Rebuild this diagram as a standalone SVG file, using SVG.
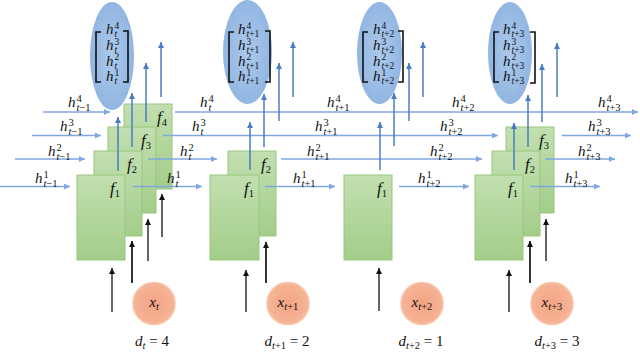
<svg xmlns="http://www.w3.org/2000/svg" width="640" height="352" viewBox="0 0 640 352">
<defs>
<linearGradient id="gbox" x1="0" y1="0" x2="0" y2="1">
<stop offset="0" stop-color="#c2dfb0"/>
<stop offset="1" stop-color="#a3cd89"/>
</linearGradient>
<radialGradient id="gell" cx="0.5" cy="0.5" r="0.5">
<stop offset="0" stop-color="#abc9ec"/>
<stop offset="1" stop-color="#92b6e2"/>
</radialGradient>
<radialGradient id="gcir" cx="0.5" cy="0.5" r="0.5">
<stop offset="0" stop-color="#f3a484"/>
<stop offset="1" stop-color="#f6b497"/>
</radialGradient>
<marker id="ahH" viewBox="0 0 10 10" refX="10" refY="5" markerWidth="6" markerHeight="6" orient="auto" markerUnits="userSpaceOnUse"><path d="M0,0 L10,5 L0,10 z" fill="#7fa8df"/></marker>
<marker id="ahV" viewBox="0 0 10 10" refX="10" refY="5" markerWidth="6" markerHeight="6" orient="auto" markerUnits="userSpaceOnUse"><path d="M0,0 L10,5 L0,10 z" fill="#4a7cc4"/></marker>
<marker id="ahK" viewBox="0 0 10 10" refX="10" refY="5" markerWidth="7" markerHeight="6" orient="auto" markerUnits="userSpaceOnUse"><path d="M0,0 L10,5 L0,10 z" fill="#111"/></marker>
</defs>
<style>
.box{fill:url(#gbox);stroke:#98c77f;stroke-width:1}
.ell{fill:url(#gell)}
.cir{fill:url(#gcir);stroke:#f8c4aa;stroke-width:1.5}
.br{fill:none;stroke:#111;stroke-width:1.6}
.h{stroke:#7fa8df;stroke-width:1.5;fill:none;marker-end:url(#ahH)}
.v{stroke:#4a7cc4;stroke-width:1.5;fill:none;marker-end:url(#ahV)}
.k{stroke:#111;stroke-width:1.3;fill:none;marker-end:url(#ahK)}
.kb{stroke:#333;stroke-width:2;fill:none;marker-end:url(#ahK)}
.m{font-family:"Liberation Serif","DejaVu Serif",serif;font-size:15px;font-style:italic;fill:#111}
.mv{font-size:15px}
.fl{font-size:17px}
.s{font-size:10.5px;font-style:normal}
.sv{font-size:9.5px;font-style:normal}
.si{font-style:italic}
.up{font-style:normal}
</style>

<!-- state ellipses -->
<g id="state-t">
<ellipse class="ell" cx="112" cy="56" rx="22" ry="54"/>
<path class="br" d="M101,32 H96 V82 H101 M123,31 H128 V82 H123"/>
<text class="m mv" x="106" y="34">h<tspan class="sv" x="114.5" y="28.5">4</tspan><tspan class="sv si" x="114.5" y="37">t</tspan></text>
<text class="m mv" x="106" y="50">h<tspan class="sv" x="114.5" y="44.5">3</tspan><tspan class="sv si" x="114.5" y="53">t</tspan></text>
<text class="m mv" x="106" y="65.5">h<tspan class="sv" x="114.5" y="60">2</tspan><tspan class="sv si" x="114.5" y="68.5">t</tspan></text>
<text class="m mv" x="106" y="81">h<tspan class="sv" x="114.5" y="75.5">1</tspan><tspan class="sv si" x="114.5" y="84">t</tspan></text>
</g>
<g id="state-t1">
<ellipse class="ell" cx="247.5" cy="52" rx="24.5" ry="52"/>
<path class="br" d="M234,32 H229 V82 H234 M265,31 H270 V82 H265"/>
<text class="m mv" x="238" y="34">h<tspan class="sv" x="246.5" y="28.5">4</tspan><tspan class="sv" x="246.5" y="37"><tspan class="si">t</tspan>+1</tspan></text>
<text class="m mv" x="238" y="50">h<tspan class="sv" x="246.5" y="44.5">3</tspan><tspan class="sv" x="246.5" y="53"><tspan class="si">t</tspan>+1</tspan></text>
<text class="m mv" x="238" y="65.5">h<tspan class="sv" x="246.5" y="60">2</tspan><tspan class="sv" x="246.5" y="68.5"><tspan class="si">t</tspan>+1</tspan></text>
<text class="m mv" x="238" y="81">h<tspan class="sv" x="246.5" y="75.5">1</tspan><tspan class="sv" x="246.5" y="84"><tspan class="si">t</tspan>+1</tspan></text>
</g>
<g id="state-t2">
<ellipse class="ell" cx="379.5" cy="53" rx="22.5" ry="51"/>
<path class="br" d="M368,32 H363 V82 H368 M398,31 H403 V82 H398"/>
<text class="m mv" x="373" y="34">h<tspan class="sv" x="381.5" y="28.5">4</tspan><tspan class="sv" x="381.5" y="37"><tspan class="si">t</tspan>+2</tspan></text>
<text class="m mv" x="373" y="50">h<tspan class="sv" x="381.5" y="44.5">3</tspan><tspan class="sv" x="381.5" y="53"><tspan class="si">t</tspan>+2</tspan></text>
<text class="m mv" x="373" y="65.5">h<tspan class="sv" x="381.5" y="60">2</tspan><tspan class="sv" x="381.5" y="68.5"><tspan class="si">t</tspan>+2</tspan></text>
<text class="m mv" x="373" y="81">h<tspan class="sv" x="381.5" y="75.5">1</tspan><tspan class="sv" x="381.5" y="84"><tspan class="si">t</tspan>+2</tspan></text>
</g>
<g id="state-t3">
<ellipse class="ell" cx="510" cy="53" rx="22" ry="51"/>
<path class="br" d="M499,32 H494 V82 H499 M530,32 H535 V83 H530"/>
<text class="m mv" x="503" y="34">h<tspan class="sv" x="511.5" y="28.5">4</tspan><tspan class="sv" x="511.5" y="37"><tspan class="si">t</tspan>+3</tspan></text>
<text class="m mv" x="503" y="50">h<tspan class="sv" x="511.5" y="44.5">3</tspan><tspan class="sv" x="511.5" y="53"><tspan class="si">t</tspan>+3</tspan></text>
<text class="m mv" x="503" y="65.5">h<tspan class="sv" x="511.5" y="60">2</tspan><tspan class="sv" x="511.5" y="68.5"><tspan class="si">t</tspan>+3</tspan></text>
<text class="m mv" x="503" y="81">h<tspan class="sv" x="511.5" y="75.5">1</tspan><tspan class="sv" x="511.5" y="84"><tspan class="si">t</tspan>+3</tspan></text>
</g>

<!-- cell boxes, back to front -->
<g id="f4-t"><rect class="box" x="124" y="104" width="48" height="85"/><text class="m fl" x="172" y="123" text-anchor="end" dx="-5">f<tspan class="s" dy="3">4</tspan></text></g>
<g id="f3-t"><rect class="box" x="108" y="127" width="48" height="86"/><text class="m fl" x="156" y="146" text-anchor="end" dx="-5">f<tspan class="s" dy="3">3</tspan></text></g>
<g id="f2-t"><rect class="box" x="94" y="151" width="48" height="85"/><text class="m fl" x="142" y="170" text-anchor="end" dx="-5">f<tspan class="s" dy="3">2</tspan></text></g>
<g id="f1-t"><rect class="box" x="77" y="175" width="48" height="85"/><text class="m fl" x="125" y="194" text-anchor="end" dx="-5">f<tspan class="s" dy="3">1</tspan></text></g>

<g id="f2-t1"><rect class="box" x="228" y="151" width="48" height="85"/><text class="m fl" x="276" y="170" text-anchor="end" dx="-5">f<tspan class="s" dy="3">2</tspan></text></g>
<g id="f1-t1"><rect class="box" x="210" y="175" width="49" height="85"/><text class="m fl" x="259" y="194" text-anchor="end" dx="-5">f<tspan class="s" dy="3">1</tspan></text></g>

<g id="f1-t2"><rect class="box" x="344" y="175" width="48" height="85"/><text class="m fl" x="392" y="194" text-anchor="end" dx="-5">f<tspan class="s" dy="3">1</tspan></text></g>

<g id="f3-t3"><rect class="box" x="506" y="127" width="48" height="86"/><text class="m fl" x="554" y="146" text-anchor="end" dx="-5">f<tspan class="s" dy="3">3</tspan></text></g>
<g id="f2-t3"><rect class="box" x="492" y="151" width="48" height="85"/><text class="m fl" x="540" y="170" text-anchor="end" dx="-5">f<tspan class="s" dy="3">2</tspan></text></g>
<g id="f1-t3"><rect class="box" x="475" y="175" width="48" height="85"/><text class="m fl" x="523" y="194" text-anchor="end" dx="-5">f<tspan class="s" dy="3">1</tspan></text></g>

<!-- inputs -->
<g id="x-t"><circle class="cir" cx="154" cy="303.5" r="21"/><text class="m" x="154" y="307" text-anchor="middle" font-size="16">x<tspan class="s si" dy="3">t</tspan></text><text class="m" x="152" y="346" text-anchor="middle" font-size="16">d<tspan class="s si" dy="3">t</tspan><tspan class="up" dy="-3"> = 4</tspan></text></g>
<g id="x-t1"><circle class="cir" cx="288" cy="303.5" r="21"/><text class="m" x="288" y="307" text-anchor="middle" font-size="16">x<tspan class="s" dy="3"><tspan class="si">t</tspan>+1</tspan></text><text class="m" x="287" y="346" text-anchor="middle" font-size="16">d<tspan class="s" dy="3"><tspan class="si">t</tspan>+1</tspan><tspan class="up" dy="-3"> = 2</tspan></text></g>
<g id="x-t2"><circle class="cir" cx="422" cy="303.5" r="21"/><text class="m" x="422" y="307" text-anchor="middle" font-size="16">x<tspan class="s" dy="3"><tspan class="si">t</tspan>+2</tspan></text><text class="m" x="421" y="346" text-anchor="middle" font-size="16">d<tspan class="s" dy="3"><tspan class="si">t</tspan>+2</tspan><tspan class="up" dy="-3"> = 1</tspan></text></g>
<g id="x-t3"><circle class="cir" cx="552" cy="303.5" r="21"/><text class="m" x="552" y="307" text-anchor="middle" font-size="16">x<tspan class="s" dy="3"><tspan class="si">t</tspan>+3</tspan></text><text class="m" x="557" y="346" text-anchor="middle" font-size="16">d<tspan class="s" dy="3"><tspan class="si">t</tspan>+3</tspan><tspan class="up" dy="-3"> = 3</tspan></text></g>

<!-- connectors -->
<g id="connectors">
<line class="h" x1="43" y1="112" x2="110" y2="112"/>
<line class="h" x1="175" y1="112" x2="638" y2="112"/>
<line class="h" x1="32" y1="135.5" x2="101" y2="135.5"/>
<line class="h" x1="163" y1="135.5" x2="498" y2="135.5"/>
<line class="h" x1="562" y1="135.5" x2="631" y2="135.5"/>
<line class="h" x1="15" y1="159" x2="85" y2="159"/>
<line class="h" x1="148" y1="159" x2="217" y2="159"/>
<line class="h" x1="281" y1="159" x2="482" y2="159"/>
<line class="h" x1="545" y1="159" x2="615" y2="159"/>
<line class="h" x1="0" y1="186.5" x2="70" y2="186.5"/>
<line class="h" x1="133" y1="186.5" x2="202" y2="186.5"/>
<line class="h" x1="265" y1="186.5" x2="335" y2="186.5"/>
<line class="h" x1="399" y1="186.5" x2="469" y2="186.5"/>
<line class="h" x1="530" y1="186.5" x2="600" y2="186.5"/>
<line class="v" x1="118" y1="171" x2="118" y2="117"/>
<line class="v" x1="132" y1="147" x2="132" y2="93"/>
<line class="v" x1="146" y1="122" x2="146" y2="63"/>
<line class="v" x1="161" y1="97" x2="161" y2="42"/>
<line class="v" x1="250" y1="170" x2="250" y2="122"/>
<line class="v" x1="264" y1="147" x2="264" y2="94"/>
<line class="v" x1="279" y1="121" x2="279" y2="63"/>
<line class="v" x1="293" y1="97" x2="293" y2="42"/>
<line class="v" x1="380" y1="170" x2="380" y2="122"/>
<line class="v" x1="394" y1="146" x2="394" y2="93"/>
<line class="v" x1="409" y1="121" x2="409" y2="63"/>
<line class="v" x1="423" y1="97" x2="423" y2="42"/>
<line class="v" x1="514" y1="170" x2="514" y2="123"/>
<line class="v" x1="528" y1="147" x2="528" y2="95"/>
<line class="v" x1="542" y1="122" x2="542" y2="64"/>
<line class="v" x1="557" y1="97" x2="557" y2="43"/>
<line class="k" x1="112" y1="312" x2="112" y2="268"/>
<line class="kb" x1="132" y1="283" x2="132" y2="241"/>
<line class="k" x1="148" y1="261" x2="148" y2="219"/>
<line class="k" x1="162" y1="237" x2="162" y2="194"/>
<line class="k" x1="246" y1="312" x2="246" y2="270"/>
<line class="kb" x1="266" y1="283" x2="266" y2="242"/>
<line class="k" x1="379" y1="311" x2="379" y2="268"/>
<line class="k" x1="509" y1="312" x2="509" y2="270"/>
<line class="kb" x1="530" y1="283" x2="530" y2="241"/>
<line class="k" x1="546" y1="261" x2="546" y2="219"/>
</g>

<!-- edge labels -->
<g id="edge-labels">
<text class="m" x="68" y="107">h<tspan class="s" x="76.5" y="102">4</tspan><tspan class="s" x="76.5" y="110.5"><tspan class="si">t</tspan>−1</tspan></text>
<text class="m" x="200" y="107">h<tspan class="s" x="208.5" y="102">4</tspan><tspan class="s si" x="208.5" y="110.5">t</tspan></text>
<text class="m" x="327" y="107">h<tspan class="s" x="335.5" y="102">4</tspan><tspan class="s" x="335.5" y="110.5"><tspan class="si">t</tspan>+1</tspan></text>
<text class="m" x="452" y="107">h<tspan class="s" x="460.5" y="102">4</tspan><tspan class="s" x="460.5" y="110.5"><tspan class="si">t</tspan>+2</tspan></text>
<text class="m" x="598" y="107">h<tspan class="s" x="606.5" y="102">4</tspan><tspan class="s" x="606.5" y="110.5"><tspan class="si">t</tspan>+3</tspan></text>

<text class="m" x="60" y="131">h<tspan class="s" x="68.5" y="126">3</tspan><tspan class="s" x="68.5" y="134.5"><tspan class="si">t</tspan>−1</tspan></text>
<text class="m" x="192" y="131">h<tspan class="s" x="200.5" y="126">3</tspan><tspan class="s si" x="200.5" y="134.5">t</tspan></text>
<text class="m" x="315" y="131">h<tspan class="s" x="323.5" y="126">3</tspan><tspan class="s" x="323.5" y="134.5"><tspan class="si">t</tspan>+1</tspan></text>
<text class="m" x="440" y="131">h<tspan class="s" x="448.5" y="126">3</tspan><tspan class="s" x="448.5" y="134.5"><tspan class="si">t</tspan>+2</tspan></text>
<text class="m" x="588" y="131">h<tspan class="s" x="596.5" y="126">3</tspan><tspan class="s" x="596.5" y="134.5"><tspan class="si">t</tspan>+3</tspan></text>

<text class="m" x="48" y="156">h<tspan class="s" x="56.5" y="151">2</tspan><tspan class="s" x="56.5" y="159.5"><tspan class="si">t</tspan>−1</tspan></text>
<text class="m" x="180" y="156">h<tspan class="s" x="188.5" y="151">2</tspan><tspan class="s si" x="188.5" y="159.5">t</tspan></text>
<text class="m" x="307" y="156">h<tspan class="s" x="315.5" y="151">2</tspan><tspan class="s" x="315.5" y="159.5"><tspan class="si">t</tspan>+1</tspan></text>
<text class="m" x="430" y="156">h<tspan class="s" x="438.5" y="151">2</tspan><tspan class="s" x="438.5" y="159.5"><tspan class="si">t</tspan>+2</tspan></text>
<text class="m" x="578" y="156">h<tspan class="s" x="586.5" y="151">2</tspan><tspan class="s" x="586.5" y="159.5"><tspan class="si">t</tspan>+3</tspan></text>

<text class="m" x="35" y="183">h<tspan class="s" x="43.5" y="178">1</tspan><tspan class="s" x="43.5" y="186.5"><tspan class="si">t</tspan>−1</tspan></text>
<text class="m" x="167" y="183">h<tspan class="s" x="175.5" y="178">1</tspan><tspan class="s si" x="175.5" y="186.5">t</tspan></text>
<text class="m" x="293" y="183">h<tspan class="s" x="301.5" y="178">1</tspan><tspan class="s" x="301.5" y="186.5"><tspan class="si">t</tspan>+1</tspan></text>
<text class="m" x="418" y="183">h<tspan class="s" x="426.5" y="178">1</tspan><tspan class="s" x="426.5" y="186.5"><tspan class="si">t</tspan>+2</tspan></text>
<text class="m" x="565" y="183">h<tspan class="s" x="573.5" y="178">1</tspan><tspan class="s" x="573.5" y="186.5"><tspan class="si">t</tspan>+3</tspan></text>
</g>
</svg>
